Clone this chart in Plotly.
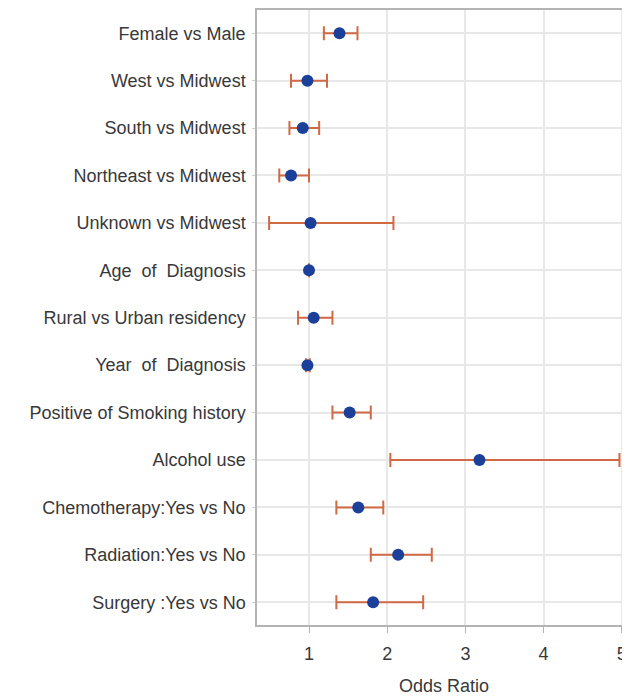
import plotly.graph_objects as go

categories = [
    "Female vs Male",
    "West vs Midwest",
    "South vs Midwest",
    "Northeast vs Midwest",
    "Unknown vs Midwest",
    "Age  of  Diagnosis",
    "Rural vs Urban residency",
    "Year  of  Diagnosis",
    "Positive of Smoking history",
    "Alcohol use",
    "Chemotherapy:Yes vs No",
    "Radiation:Yes vs No",
    "Surgery :Yes vs No",
]
odds_ratio = [1.39, 0.98, 0.92, 0.77, 1.02, 1.00, 1.06, 0.98, 1.52, 3.18, 1.63, 2.14, 1.82]
ci_lower = [1.19, 0.77, 0.75, 0.62, 0.49, 0.995, 0.86, 0.96, 1.30, 2.04, 1.35, 1.79, 1.35]
ci_upper = [1.62, 1.23, 1.13, 1.00, 2.08, 1.005, 1.30, 1.01, 1.79, 4.97, 1.95, 2.57, 2.46]
x_ticks = [1, 2, 3, 4, 5]

err_plus = [u - o for u, o in zip(ci_upper, odds_ratio)]
err_minus = [o - l for o, l in zip(odds_ratio, ci_lower)]
show_err = [abs(u - l) > 0.02 for u, l in zip(ci_upper, ci_lower)]

fig = go.Figure()
fig.add_trace(go.Scatter(
    x=odds_ratio,
    y=categories,
    mode="markers",
    marker=dict(color="#1c3f9a", size=12, line=dict(width=0)),
    error_x=dict(
        type="data",
        symmetric=False,
        array=[p if s else 0 for p, s in zip(err_plus, show_err)],
        arrayminus=[m if s else 0 for m, s in zip(err_minus, show_err)],
        color="#cf6a45",
        thickness=2,
        width=7,
    ),
    showlegend=False,
))

fig.add_shape(type="line", xref="x", yref="paper", x0=1, x1=1, y0=0, y1=1,
              line=dict(color="#a8a8a8", width=2), layer="below")

# page body has an 8px margin, so the figure is shrunk and shifted accordingly
fig.update_layout(
    width=622, height=688,
    margin=dict(l=249, r=0, t=2, b=71),
    paper_bgcolor="white",
    plot_bgcolor="white",
    font=dict(family="Liberation Sans, Arial, sans-serif", size=18, color="#383838"),
    xaxis=dict(
        range=[0.335, 5.105],
        tickvals=x_ticks,
        ticktext=[str(t) for t in x_ticks],
        showgrid=True, gridcolor="#e8e8e8", gridwidth=1.5,
        zeroline=False,
        showline=True, linecolor="#b4b4b4", linewidth=1.5, mirror=True,
        ticks="outside", ticklen=6, tickcolor="#b4b4b4",
        ticklabelstandoff=6,
        tickfont=dict(size=18, color="#383838"),
    ),
    yaxis=dict(
        categoryorder="array",
        categoryarray=categories,
        range=[12.48, -0.49],
        showgrid=True, gridcolor="#e8e8e8", gridwidth=1.5,
        zeroline=False,
        showline=True, linecolor="#b4b4b4", linewidth=1.5,
        ticks="outside", ticklen=3, tickcolor="#d0d0d0",
        ticklabelstandoff=3,
        tickfont=dict(size=18, color="#383838"),
    ),
    annotations=[dict(
        text="Odds Ratio", xref="paper", yref="paper", x=0.5, y=0,
        yanchor="middle", yshift=-61, showarrow=False,
        font=dict(size=18, color="#383838"),
    )],
)

fig.write_html("out.html")
